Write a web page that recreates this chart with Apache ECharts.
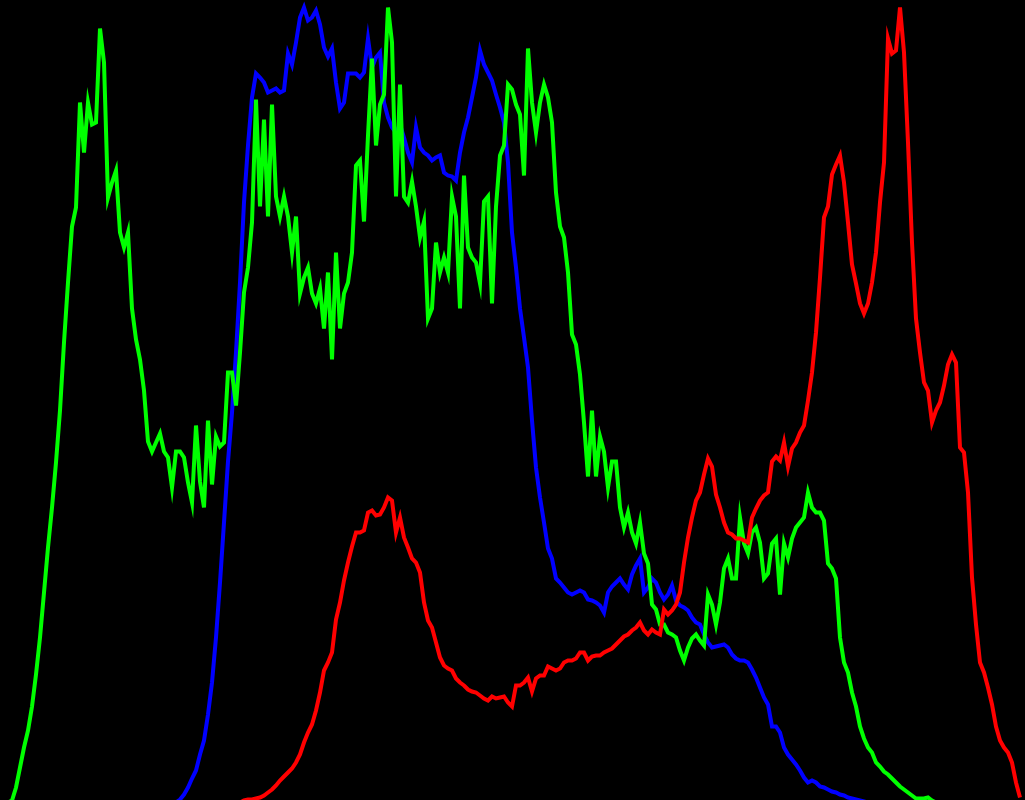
<!DOCTYPE html>
<html>
<head>
<meta charset="utf-8">
<script src="https://cdn.jsdelivr.net/npm/echarts@6/dist/echarts.min.js"></script>
<style>html,body{margin:0;padding:0;background:#000;}#chart{width:1025px;height:800px;}</style>
</head>
<body>
<div id="chart"></div>
<script>
// 256-bin histogram counts (scaled to 0..800)
const blueValues = [
0,0,0,0,0,0,0,0,0,0, 0,0,0,0,0,0,0,0,0,0, 0,0,0,0,0,0,0,0,0,0, 0,0,0,0,0,0,0,0,0,0, 0,0,0,0,0,
3,8,15,24,32,48,62,88,120,165,220,280,341,390,450,520,600,657,705,
729,725,720,710,712,714,710,712,749,738,760,785,795,782,785,792,778,755,746,754,720,694,700,729,729,729,725,730,764,735,745,750,
700,685,675,670,678,665,650,640,675,655,650,647,642,645,647,630,627,626,622,650,670,685,705,725,752,738,730,722,708,695,680,640,
570,535,494,465,435,382,335,305,280,254,244,224,220,215,210,208,210,212,210,203,202,200,197,190,210,216,220,224,218,213,228,237,
244,210,215,224,220,210,203,208,217,202,197,195,192,185,180,178,168,160,155,156,157,158,155,148,144,142,142,140,133,125,115,105,
98,76,76,70,55,48,43,38,32,25,20,22,20,16,15,13,11,10,8,7,5,4,3,2,1,
0,0,0,0,0,0,0,0,0,0, 0,0,0,0,0,0,0,0,0,0, 0,0,0,0,0,0,0,0,0,0, 0,0,0,0,0,0,0,0,0
];
const greenValues = [
0,0,0,2,15,35,55,72,96,128,165,210,255,295,340,392,460,520,576,595,700,650,700,678,680,774,740,605,620,632,570,555,
570,494,463,443,412,361,351,360,369,351,345,315,351,351,345,320,300,377,321,295,382,318,366,356,360,430,430,397,450,510,535,580,
703,596,683,586,698,606,586,606,586,550,586,509,525,535,509,499,514,474,530,443,550,474,509,520,550,637,642,581,667,744,657,698,
708,795,760,606,718,606,600,621,596,565,581,484,494,560,530,545,530,606,586,494,627,555,545,540,519,601,606,499,596,647,657,718,
713,698,688,627,754,700,670,700,718,705,680,610,576,565,530,468,458,428,380,326,392,326,366,351,315,341,341,295,275,290,270,259,
280,249,239,198,193,178,178,170,168,165,152,142,155,164,168,162,157,208,198,178,200,234,244,224,224,285,259,249,270,275,260,224,
229,259,264,208,259,245,264,275,280,285,310,295,290,290,282,239,234,224,165,140,130,110,96,76,64,55,50,40,36,31,28,24,
20,16,13,10,7,4,4,4,5,2,0,0,0,0,0,0,0,0,0,0,0,0,0,0,0,0,0,0,0,0,0,0
];
const redValues = [
0,0,0,0,0,0,0,0,0,0, 0,0,0,0,0,0,0,0,0,0, 0,0,0,0,0,0,0,0,0,0, 0,0,0,0,0,0,0,0,0,0, 0,0,0,0,0,0,0,0,0,0, 0,0,0,0,0,0,0,0,0,0, 0,
2,3,3,4,5,7,10,13,17,22,26,30,34,40,48,60,70,78,92,110,132,140,150,183,200,222,240,256,270,270,272,290,292,287,288,
295,305,302,270,285,265,255,244,240,230,200,182,175,160,145,137,134,132,124,120,117,113,111,110,107,104,102,106,104,105,106,100,
96,117,117,120,125,111,124,127,127,136,134,132,134,140,142,142,144,150,150,142,146,147,147,150,152,154,158,162,166,168,172,175,
180,172,168,173,170,168,193,188,192,198,210,240,265,285,302,310,328,344,336,308,295,280,270,268,264,264,262,260,285,294,302,307,
310,341,346,342,360,336,354,360,370,377,402,430,470,525,585,596,628,638,647,620,580,538,519,499,489,499,520,550,600,640,764,749,
752,795,750,660,560,484,450,420,412,380,392,400,417,438,448,440,355,350,310,225,178,140,130,115,98,76,62,55,50,40,20,5
];
const seriesNames = ['B', 'G', 'R'];
const seriesColors = ['#0000ff', '#00ff00', '#ff0000'];

const chart = echarts.init(document.getElementById('chart'), null, {renderer: 'canvas'});
const toPairs = arr => arr.map((v, i) => [i, v]);
const allData = [blueValues, greenValues, redValues];
chart.setOption({
  backgroundColor: '#000000',
  animation: false,
  grid: {left: 0, right: 0, top: 0, bottom: 0},
  xAxis: {type: 'value', min: 0, max: 256.25, show: false},
  yAxis: {type: 'value', min: 2.5, max: 802.5, show: false},
  series: allData.map((d, k) => ({
    name: seriesNames[k],
    type: 'line',
    data: toPairs(d),
    showSymbol: false,
    symbol: 'none',
    clip: false,
    lineStyle: {color: seriesColors[k], width: 4, join: 'miter'},
    itemStyle: {color: seriesColors[k]}
  }))
});
</script>
</body>
</html>
